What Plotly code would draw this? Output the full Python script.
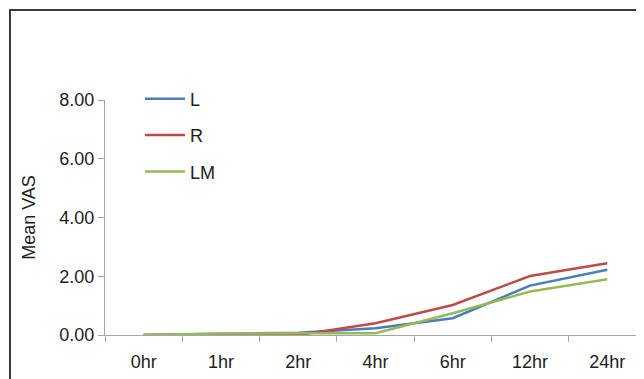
import plotly.graph_objects as go

categories = ["0hr", "1hr", "2hr", "4hr", "6hr", "12hr", "24hr"]
L_vals = [0.00, 0.03, 0.08, 0.23, 0.57, 1.68, 2.22]
R_vals = [0.00, 0.00, 0.00, 0.40, 1.02, 2.01, 2.44]
LM_vals = [0.00, 0.05, 0.06, 0.06, 0.74, 1.48, 1.90]
y_ticks = [0, 2, 4, 6, 8]
y_ticktext = ["0.00", "2.00", "4.00", "6.00", "8.00"]

series = [("L", L_vals, "#4A7EBB"), ("R", R_vals, "#BE4B48"), ("LM", LM_vals, "#98B954")]

fig = go.Figure()
for i, (name, vals, col) in enumerate(series):
    fig.add_trace(go.Scatter(x=categories, y=vals, name=name, mode="lines",
                             line=dict(color=col, width=2.5), legendgroup=f"g{i}"))

font = dict(family="Arial, Liberation Sans, sans-serif", size=18, color="#1e1e1e")
axis_col = "#a6a6a6"

fig.update_layout(
    width=644, height=379,
    margin=dict(l=97, r=8, t=92, b=52),
    paper_bgcolor="white", plot_bgcolor="white",
    font=font,
    showlegend=True,
    legend=dict(x=0.065, y=1.083, xanchor="left", yanchor="top",
                traceorder="grouped", tracegroupgap=10,
                bgcolor="rgba(0,0,0,0)", font=font, itemwidth=40),
    xaxis=dict(type="category", categoryorder="array", categoryarray=categories,
               range=[-0.5, 6.475], tickson="boundaries", ticks="outside", ticklen=6,
               tickcolor=axis_col, showline=True, linecolor=axis_col, linewidth=1,
               showgrid=False, zeroline=False, ticklabelstandoff=10),
    yaxis=dict(range=[0, 8], tickvals=y_ticks, ticktext=y_ticktext, ticks="outside",
               ticklen=6, tickcolor=axis_col, showline=True, linecolor=axis_col,
               linewidth=1, showgrid=False, zeroline=False,
               title=dict(text="Mean VAS", standoff=19, font=font)),
)

fig.add_shape(type="rect", xref="paper", yref="paper",
              x0=(2 - 97) / 539, x1=1.05, y0=-0.3, y1=(327 - 2) / 235,
              line=dict(color="#3a3a3a", width=2), fillcolor="rgba(0,0,0,0)", layer="below")

fig.write_html("out.html")
